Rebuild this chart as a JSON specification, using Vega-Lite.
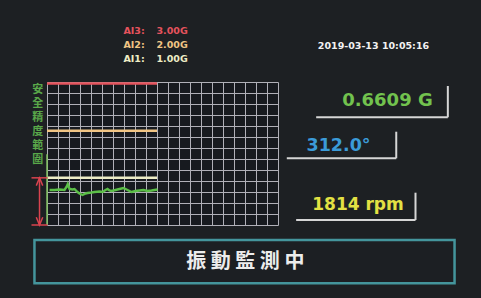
{
  "$schema": "https://vega.github.io/schema/vega-lite/v6.json",
  "width": 231,
  "height": 143,
  "autosize": {"type": "none"},
  "padding": {"left": 47, "top": 82, "right": 203, "bottom": 73},
  "background": "#1d2023",
  "config": {
    "view": {"stroke": null, "fill": "#171a1f"},
    "text": {"font": "DejaVu Sans", "fontWeight": "bold"}
  },
  "datasets": {
    "vibration": [
      {"t": 0.23, "g": 0.742}, {"t": 0.68, "g": 0.742}, {"t": 1.14, "g": 0.753}, {"t": 1.59, "g": 0.742},
      {"t": 1.77, "g": 0.806}, {"t": 1.89, "g": 0.869}, {"t": 2.05, "g": 0.763}, {"t": 2.32, "g": 0.753},
      {"t": 2.5, "g": 0.763}, {"t": 2.77, "g": 0.7}, {"t": 2.95, "g": 0.668}, {"t": 3.23, "g": 0.636},
      {"t": 3.5, "g": 0.668}, {"t": 3.68, "g": 0.679}, {"t": 4.05, "g": 0.689}, {"t": 4.32, "g": 0.7},
      {"t": 4.77, "g": 0.71}, {"t": 5.05, "g": 0.7}, {"t": 5.32, "g": 0.742}, {"t": 5.5, "g": 0.763},
      {"t": 5.68, "g": 0.732}, {"t": 5.86, "g": 0.721}, {"t": 6.23, "g": 0.742}, {"t": 6.59, "g": 0.763},
      {"t": 6.95, "g": 0.785}, {"t": 7.14, "g": 0.763}, {"t": 7.41, "g": 0.732}, {"t": 7.68, "g": 0.7},
      {"t": 8.05, "g": 0.721}, {"t": 8.41, "g": 0.732}, {"t": 8.77, "g": 0.742}, {"t": 9.14, "g": 0.721},
      {"t": 9.5, "g": 0.732}, {"t": 9.77, "g": 0.742}, {"t": 10.05, "g": 0.753}
    ],
    "thresholds": [
      {"series": "AI3", "t": 0, "t2": 10, "g": 3.0},
      {"series": "AI2", "t": 0, "t2": 10, "g": 2.0},
      {"series": "AI1", "t": 0, "t2": 10, "g": 1.0}
    ],
    "legend": [
      {"series": "AI3", "label": "AI3:", "value": "3.00G", "t": 6.95, "tv": 9.95, "g": 4.114},
      {"series": "AI2", "label": "AI2:", "value": "2.00G", "t": 6.95, "tv": 9.95, "g": 3.817},
      {"series": "AI1", "label": "AI1:", "value": "1.00G", "t": 6.95, "tv": 9.95, "g": 3.52}
    ],
    "stamp": [{"text": "2019-03-13 10:05:16", "t": 29.68, "g": 3.8}],
    "readouts": [
      {"name": "vibration", "text": "0.6609 G", "t": 30.95, "g": 2.636},
      {"name": "phase", "text": "312.0°", "t": 26.5, "g": 1.682},
      {"name": "speed", "text": "1814 rpm", "t": 28.27, "g": 0.424}
    ],
    "frames": [
      {"box": "vibration", "t": 24.47, "t2": 36.44, "g": 2.284, "g2": 2.284},
      {"box": "vibration", "t": 36.44, "t2": 36.44, "g": 2.284, "g2": 2.947},
      {"box": "phase", "t": 21.8, "t2": 31.75, "g": 1.414, "g2": 1.414},
      {"box": "phase", "t": 31.75, "t2": 31.75, "g": 1.414, "g2": 1.978},
      {"box": "speed", "t": 22.65, "t2": 33.5, "g": 0.106, "g2": 0.106},
      {"box": "speed", "t": 33.5, "t2": 33.5, "g": 0.106, "g2": 0.685}
    ],
    "safeRange": [
      {"part": "span", "t": -0.68, "t2": -0.68, "g": 0, "g2": 1},
      {"part": "upper", "t": -1.41, "t2": 0.05, "g": 1, "g2": 1},
      {"part": "lower", "t": -1.41, "t2": 0.05, "g": 0, "g2": 0}
    ],
    "arrowHeads": [
      {"end": "upper", "t": -0.68, "g": 1},
      {"end": "lower", "t": -0.68, "g": 0}
    ],
    "safeEdge": [{"t": 0, "t2": 0, "g": 0, "g2": 1.5}],
    "safeLabel": [
      {"char": "安", "t": -0.84, "g": 2.863},
      {"char": "全", "t": -0.84, "g": 2.566},
      {"char": "精", "t": -0.84, "g": 2.269},
      {"char": "度", "t": -0.84, "g": 1.972},
      {"char": "範", "t": -0.84, "g": 1.675},
      {"char": "圍", "t": -0.84, "g": 1.378}
    ],
    "banner": [{"t": -1.14, "t2": 37.05, "g": -0.318, "g2": -1.236}],
    "bannerText": [{"text": "振 動 監 測 中", "t": 18.03, "g": -0.791}]
  },
  "encoding": {
    "x": {
      "field": "t", "type": "quantitative",
      "scale": {"domain": [0, 21], "nice": false, "zero": false},
      "axis": {"values": [0,1,2,3,4,5,6,7,8,9,10,11,12,13,14,15,16,17,18,19,20,21], "grid": true, "gridColor": "#b0b0b8", "gridWidth": 1, "labels": false, "ticks": false, "domain": false, "title": null}
    },
    "y": {
      "field": "g", "type": "quantitative",
      "scale": {"domain": [0, 3.032], "nice": false, "zero": false},
      "axis": {"values": [0, 0.23323, 0.46646, 0.69969, 0.93292, 1.16615, 1.39938, 1.63262, 1.86585, 2.09908, 2.33231, 2.56554, 2.79877, 3.032], "grid": true, "gridColor": "#b0b0b8", "gridWidth": 1, "labels": false, "ticks": false, "domain": false, "title": null}
    }
  },
  "layer": [
    {
      "data": {"name": "banner"},
      "mark": {"type": "rect", "fill": "#1c1f23", "stroke": "#44959c", "strokeWidth": 2.5},
      "encoding": {"x2": {"field": "t2"}, "y2": {"field": "g2"}}
    },
    {
      "data": {"name": "frames"},
      "mark": {"type": "rule", "color": "#d6d6d6", "strokeWidth": 2},
      "encoding": {"x2": {"field": "t2"}, "y2": {"field": "g2"}, "detail": {"field": "box"}}
    },
    {
      "data": {"name": "thresholds"},
      "mark": {"type": "rule", "strokeWidth": 2.5},
      "encoding": {
        "x2": {"field": "t2"},
        "color": {"field": "series", "type": "nominal", "legend": null,
          "scale": {"domain": ["AI3", "AI2", "AI1", "vibration", "phase", "speed"], "range": ["#e5535d", "#f0c585", "#efedc6", "#72c24e", "#3b9bd8", "#e3e143"]}}
      }
    },
    {
      "data": {"name": "vibration"},
      "mark": {"type": "line", "color": "#5cbf48", "strokeWidth": 2.4},
      "encoding": {}
    },
    {
      "data": {"name": "safeEdge"},
      "mark": {"type": "rule", "color": "#7fbf5f", "strokeWidth": 1.5},
      "encoding": {"x2": {"field": "t2"}, "y2": {"field": "g2"}}
    },
    {
      "data": {"name": "safeRange"},
      "mark": {"type": "rule", "color": "#d9434f", "strokeWidth": 1.5},
      "encoding": {"x2": {"field": "t2"}, "y2": {"field": "g2"}, "detail": {"field": "part"}}
    },
    {
      "data": {"name": "arrowHeads"},
      "mark": {"type": "point", "filled": false, "color": "#d9434f", "strokeWidth": 1.5, "size": 42, "opacity": 1},
      "encoding": {
        "shape": {"field": "end", "type": "nominal", "legend": null,
          "scale": {"domain": ["upper", "lower"], "range": ["M-1,2.4L0,0L1,2.4", "M-1,-2.4L0,0L1,-2.4"]}}
      }
    },
    {
      "data": {"name": "safeLabel"},
      "mark": {"type": "text", "font": "Noto Sans CJK TC", "fontWeight": "bold", "fontSize": 11, "baseline": "middle", "align": "center", "color": "#5aa84a"},
      "encoding": {"text": {"field": "char"}}
    },
    {
      "data": {"name": "legend"},
      "mark": {"type": "text", "fontSize": 9.5, "align": "left", "baseline": "middle"},
      "encoding": {"text": {"field": "label"}, "color": {"field": "series", "type": "nominal", "legend": null}}
    },
    {
      "data": {"name": "legend"},
      "mark": {"type": "text", "fontSize": 9.5, "align": "left", "baseline": "middle"},
      "encoding": {"x": {"field": "tv", "type": "quantitative"}, "text": {"field": "value"}, "color": {"field": "series", "type": "nominal", "legend": null}}
    },
    {
      "data": {"name": "stamp"},
      "mark": {"type": "text", "fontSize": 9.5, "align": "center", "baseline": "middle", "color": "#f2f2f2"},
      "encoding": {"text": {"field": "text"}}
    },
    {
      "data": {"name": "readouts"},
      "mark": {"type": "text", "align": "center", "baseline": "middle"},
      "encoding": {
        "text": {"field": "text"},
        "color": {"field": "name", "type": "nominal", "legend": null},
        "size": {"field": "name", "type": "nominal", "legend": null, "scale": {"domain": ["vibration", "phase", "speed"], "range": [18, 17, 15.5]}}
      }
    },
    {
      "data": {"name": "bannerText"},
      "mark": {"type": "text", "font": "Noto Sans CJK TC", "fontWeight": "bold", "fontSize": 20, "align": "center", "baseline": "middle", "color": "#ececec"},
      "encoding": {"text": {"field": "text"}}
    }
  ]
}
